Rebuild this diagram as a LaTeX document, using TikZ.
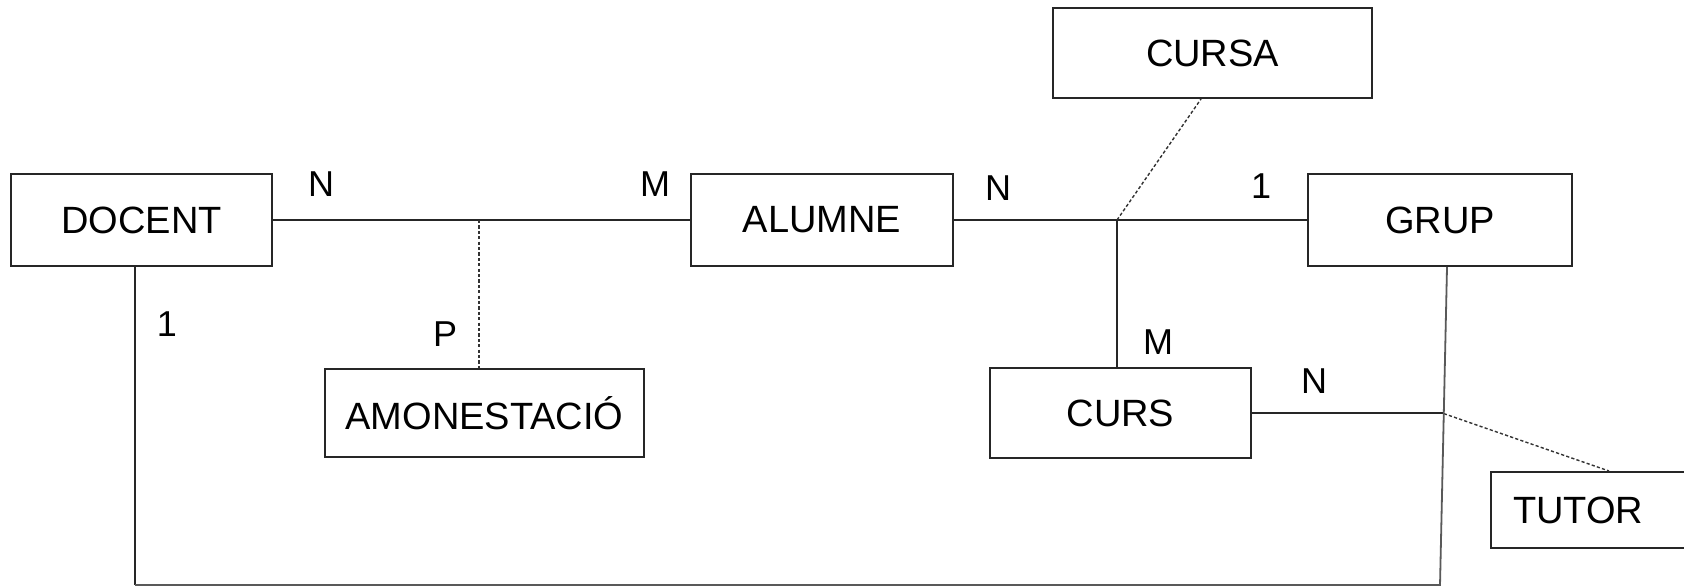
\documentclass[tikz,border=0pt]{standalone}
\usepackage{fontspec}
\setmainfont{Liberation Sans}
\usetikzlibrary{calc}
\tikzset{
  ent/.style={draw=black!85, line width=1pt, rectangle, inner sep=0pt, font=\fontsize{19pt}{23pt}\selectfont},
  lbl/.style={inner sep=0pt, font=\fontsize{18pt}{22pt}\selectfont},
  rel/.style={draw=black!85, line width=0.9pt},
  grel/.style={draw=black!65, line width=0.9pt},
  dotrel/.style={draw=black!80, line width=0.7pt, dash pattern=on 1.6pt off 1.1pt}
}
\begin{document}
\begin{tikzpicture}[x=0.5pt,y=-0.5pt]
\useasboundingbox (0,0) rectangle (1684,587);
% entities
\node[ent, minimum width=130.5pt, minimum height=46pt] (docent) at (141.5,220) {DOCENT};
\node[ent, minimum width=131pt, minimum height=46pt] (alumne) at (822,220) {ALUMNE};
\node[ent, minimum width=159.5pt, minimum height=44pt] (amon) at (484.5,413) {AMONESTACIÓ};
\node[ent, minimum width=159.5pt, minimum height=45pt] (cursa) at (1212.5,53) {CURSA};
\node[ent, minimum width=132pt, minimum height=46pt] (grup) at (1440,220) {GRUP};
\node[ent, minimum width=130.5pt, minimum height=45pt] (curs) at (1120.5,413) {CURS};
\node[ent, anchor=west, align=left, text width=83pt, inner xsep=11pt, minimum height=38pt] (tutor) at (1490,510) {TUTOR};
% labels
\node[lbl] (lN1) at (321,184) {N};
\node[lbl] (lM1) at (655,184) {M};
\node[lbl] (lP) at (445,334) {P};
\node[lbl] (l1a) at (167,324) {1};
\node[lbl] (lN2) at (998,188) {N};
\node[lbl] (l1b) at (1261,186) {1};
\node[lbl] (lM2) at (1158,342) {M};
\node[lbl] (lN3) at (1314,381) {N};
% junctions
\coordinate (j1) at (479,220);
\coordinate (j2) at (1117,220);
\coordinate (gb) at ([xshift=3.5pt]grup.south);
\coordinate (c1) at (135,585);
\coordinate (c2) at (1440,585);
\coordinate (j3) at ($(gb)!0.461!(c2)$);
% connectors
\draw[rel] (docent.east) -- (alumne.west);
\draw[rel] (alumne.east) -- (grup.west);
\draw[dotrel] (j1) -- (j1 |- amon.north);
\draw[rel] (j2) -- (j2 |- curs.north);
\draw[dotrel] (j2) -- ([xshift=-5.75pt]cursa.south);
\draw[rel] (curs.east) -- (curs.east -| j3);
\draw[dotrel] (j3) -- ([xshift=6.5pt]tutor.north);
\draw[rel] ([xshift=-3.25pt]docent.south) -- (c1);
\draw[grel] (c1) -- (c2) -- (gb);
\end{tikzpicture}
\end{document}
